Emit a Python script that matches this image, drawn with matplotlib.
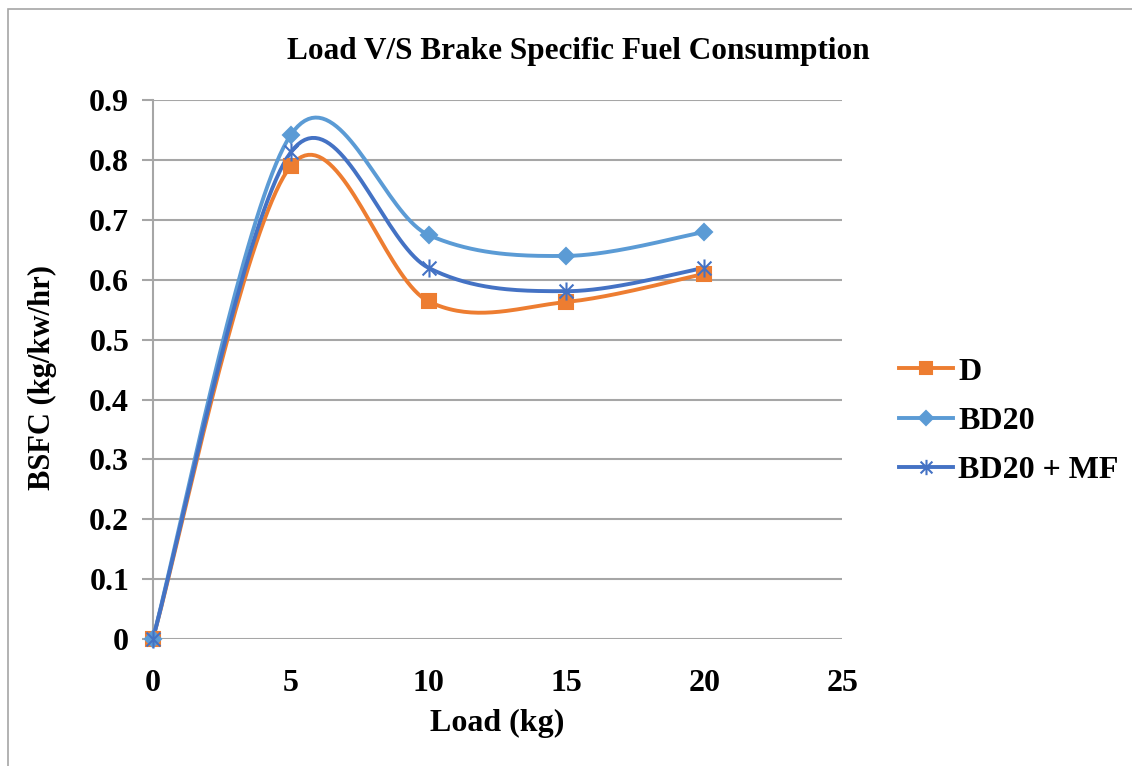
import numpy as np
import matplotlib.pyplot as plt
from matplotlib.path import Path
from matplotlib.patches import Rectangle

# Data
load = [0, 5, 10, 15, 20]
bsfc_d = [0.0, 0.79, 0.564, 0.563, 0.61]
bsfc_bd20 = [0.0, 0.842, 0.675, 0.64, 0.68]
bsfc_bd20_mf = [0.0, 0.813, 0.62, 0.581, 0.62]

series_names = ['D', 'BD20', 'BD20 + MF']
colors = ['#ED7D31', '#5B9BD5', '#4472C4']


def excel_smooth(x, y, n=40):
    # Bezier segments with Catmull-Rom style control points (like Excel's smoothed line)
    x = np.asarray(x, float)
    y = np.asarray(y, float)
    pts = np.column_stack([x, y])
    out = [pts[0]]
    t = np.linspace(0, 1, n)[1:, None]
    for i in range(len(pts) - 1):
        p0 = pts[max(i - 1, 0)]
        p1 = pts[i]
        p2 = pts[i + 1]
        p3 = pts[min(i + 2, len(pts) - 1)]
        c1 = p1 + (p2 - p0) / 6
        c2 = p2 - (p3 - p1) / 6
        seg = ((1 - t) ** 3) * p1 + 3 * ((1 - t) ** 2) * t * c1 + 3 * (1 - t) * t ** 2 * c2 + t ** 3 * p2
        out.extend(seg)
    out = np.array(out)
    return out[:, 0], out[:, 1]


# Excel-style star marker: X plus vertical stroke
star = Path([(-1, -1), (1, 1), (-1, 1), (1, -1), (0, -1.3), (0, 1.3)],
            [Path.MOVETO, Path.LINETO, Path.MOVETO, Path.LINETO, Path.MOVETO, Path.LINETO])
markers = ['s', 'D', star]
msizes = [10, 8, 13]

plt.rcParams['font.family'] = ['Liberation Serif', 'DejaVu Serif']
plt.rcParams['font.weight'] = 'bold'

fig = plt.figure(figsize=(11.32, 7.66), dpi=100)
ax = fig.add_axes([0.135, 0.166, 0.609, 0.703])

# Outer chart border
fig.patches.append(Rectangle((8 / 1132, -0.05), 1.2, 1 - 9 / 766 + 0.05, transform=fig.transFigure,
                             fill=False, edgecolor='#A6A6A6', linewidth=1.2))

for ys, name, c, m, ms in zip([bsfc_d, bsfc_bd20, bsfc_bd20_mf], series_names, colors, markers, msizes):
    sx, sy = excel_smooth(load, ys)
    ax.plot(sx, sy, color=c, linewidth=2.8, solid_capstyle='round', zorder=3, clip_on=False)
    ax.plot(load, ys, linestyle='none', marker=m, markersize=ms, color=c,
            markeredgecolor=c, markeredgewidth=1.5, zorder=4, clip_on=False)
    ax.plot([], [], color=c, linewidth=2.8, marker=m, markersize=ms * 0.85,
            markeredgewidth=1.5, label=name)

ax.set_xlim(0, 25)
ax.set_ylim(0, 0.9)
ax.set_xticks(np.arange(0, 26, 5))
ax.set_yticks(np.round(np.arange(0, 0.91, 0.1), 1))
ax.set_yticklabels(['0'] + [f'{v:.1f}' for v in np.arange(0.1, 0.91, 0.1)])

ax.grid(axis='y', color='#A6A6A6', linewidth=1.5)
ax.set_axisbelow(True)
for s in ['top', 'right', 'bottom']:
    ax.spines[s].set_visible(False)
ax.spines['left'].set_color('#A6A6A6')
ax.spines['left'].set_linewidth(1.5)

ax.tick_params(axis='y', length=8, width=1.5, color='#A6A6A6', labelsize=23, pad=9)
ax.tick_params(axis='x', length=0, labelsize=23, pad=22)

fig.text(578 / 1132, 1 - 52 / 766, 'Load V/S Brake Specific Fuel Consumption',
         fontsize=22.5, fontweight='bold', ha='center', va='center')
fig.text(497 / 1132, 1 - 723 / 766, 'Load (kg)', fontsize=23, fontweight='bold',
         ha='center', va='center')
fig.text(42 / 1132, 1 - 378 / 766, 'BSFC (kg/kw/hr)', fontsize=22, fontweight='bold',
         ha='center', va='center', rotation=90)

ax.legend(loc='center left', bbox_to_anchor=(883 / 1132, 1 - 421 / 766),
          bbox_transform=fig.transFigure, frameon=False, fontsize=23,
          handlelength=1.7, labelspacing=0.62, handletextpad=0.15, borderpad=0)

fig.savefig('out.png', dpi=100)
